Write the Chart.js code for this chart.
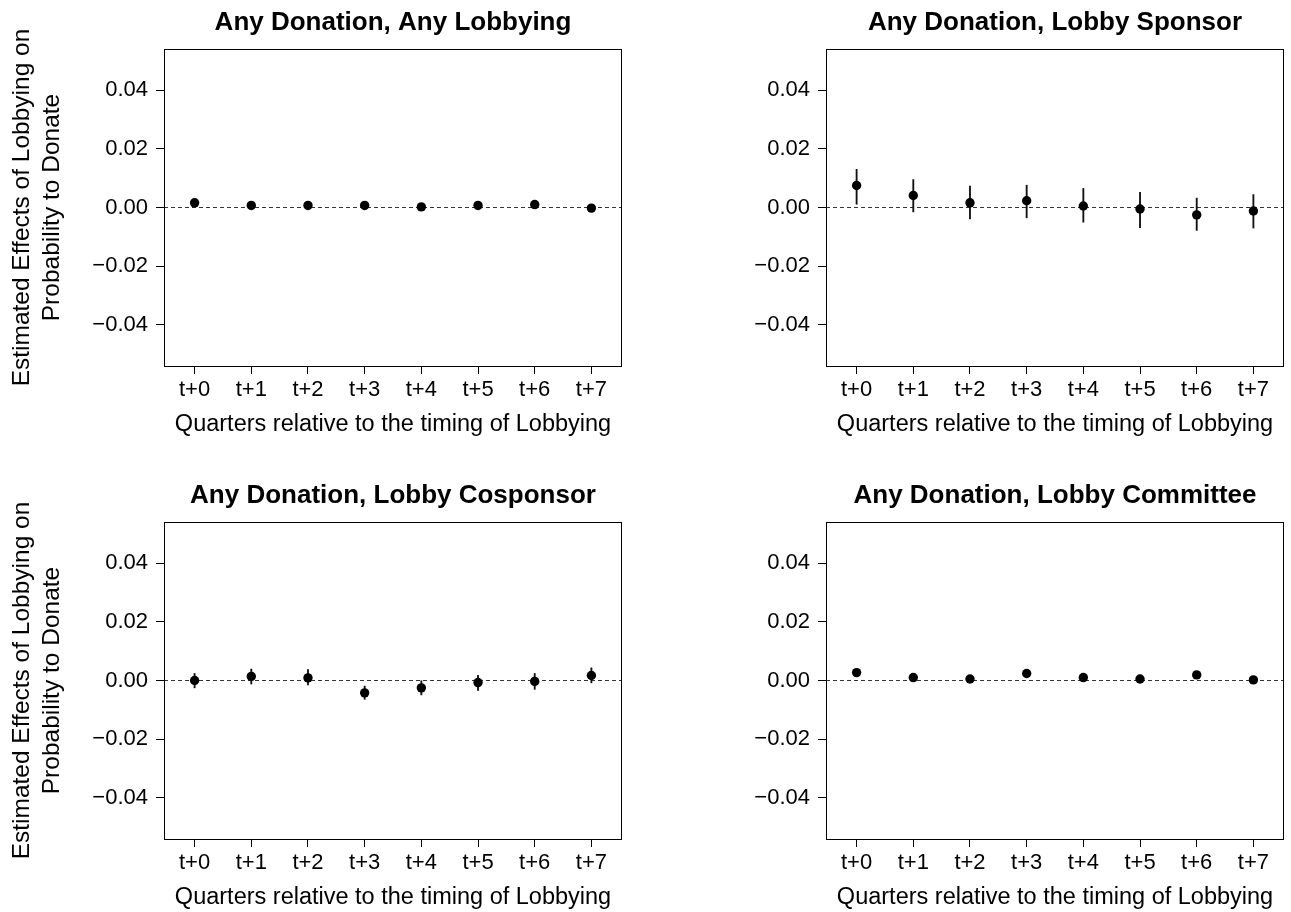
<!DOCTYPE html>
<html>
<head>
<meta charset="utf-8">
<script src="https://cdn.jsdelivr.net/npm/chart.js@4/dist/chart.umd.min.js"></script>
<style>
  html, body { margin: 0; padding: 0; background: #fff; overflow: hidden; }
  #wrap { position: relative; width: 1291px; height: 912px; }
  canvas { position: absolute; }
</style>
</head>
<body>
<div id="wrap">
  <canvas id="p1" width="645" height="473" style="left:0;top:0"></canvas>
  <canvas id="p2" width="646" height="473" style="left:645px;top:0"></canvas>
  <canvas id="p3" width="645" height="439" style="left:0;top:473px"></canvas>
  <canvas id="p4" width="646" height="439" style="left:645px;top:473px"></canvas>
</div>
<script>
// Quarters after lobbying (x categories) and y tick values
const QUARTERS = ['t+0', 't+1', 't+2', 't+3', 't+4', 't+5', 't+6', 't+7'];
const Y_TICKS = [-0.04, -0.02, 0, 0.02, 0.04];

const TITLES = [
  'Any Donation, Any Lobbying',
  'Any Donation, Lobby Sponsor',
  'Any Donation, Lobby Cosponsor',
  'Any Donation, Lobby Committee'
];

// Any lobbying
const anyEst = [0.0016, 0.0007, 0.0007, 0.0007, 0.0002, 0.0007, 0.0010, -0.0002];
const anyLo  = [0.0008, -0.0001, -0.0001, -0.0001, -0.0006, -0.0001, 0.0002, -0.0010];
const anyHi  = [0.0024, 0.0015, 0.0015, 0.0015, 0.0010, 0.0015, 0.0018, 0.0006];

// Lobby sponsor
const sponsorEst = [0.0075, 0.0041, 0.0016, 0.0023, 0.0005, -0.0005, -0.0025, -0.0012];
const sponsorLo  = [0.0011, -0.0015, -0.0039, -0.0035, -0.0050, -0.0069, -0.0078, -0.0070];
const sponsorHi  = [0.0130, 0.0095, 0.0073, 0.0076, 0.0065, 0.0052, 0.0032, 0.0044];

// Lobby cosponsor
const cosponsorEst = [0.0000, 0.0014, 0.0009, -0.0042, -0.0025, -0.0007, -0.0003, 0.0017];
const cosponsorLo  = [-0.0025, -0.0012, -0.0015, -0.0064, -0.0049, -0.0034, -0.0030, -0.0008];
const cosponsorHi  = [0.0024, 0.0039, 0.0037, -0.0019, -0.0001, 0.0018, 0.0024, 0.0043];

// Lobby committee
const committeeEst = [0.0027, 0.0010, 0.0005, 0.0024, 0.0010, 0.0005, 0.0019, 0.0002];
const committeeLo  = [0.0017, 0.0000, -0.0005, 0.0014, 0.0000, -0.0005, 0.0009, -0.0008];
const committeeHi  = [0.0037, 0.0020, 0.0015, 0.0034, 0.0020, 0.0015, 0.0029, 0.0012];

// Axis extents
const X_MIN = -0.54, X_MAX = 7.54;
const Y_MIN = -0.054, Y_MAX = 0.054;

const FONT = '"Liberation Sans", Arial, Helvetica, sans-serif';
const Y_TITLE = ['Estimated Effects of Lobbying on', 'Probability to Donate'];
const X_TITLE = 'Quarters relative to the timing of Lobbying';
const X_TITLE_SIZE = 23.5;
const Y_TITLE_SIZE = 24.5;

Chart.defaults.font.family = FONT;
Chart.defaults.color = '#000';

// Full box around the plotting region
const boxPlugin = {
  id: 'box',
  afterDraw(chart) {
    const { ctx, chartArea: a } = chart;
    ctx.save();
    ctx.strokeStyle = '#000';
    ctx.lineWidth = 1;
    ctx.strokeRect(Math.round(a.left) + 0.5, Math.round(a.top) + 0.5,
                   Math.round(a.right - a.left) - 1, Math.round(a.bottom - a.top));
    ctx.restore();
  }
};

// Bold panel heading centred over the box
const headingPlugin = {
  id: 'heading',
  afterDraw(chart, args, opts) {
    const { ctx, chartArea: a } = chart;
    ctx.save();
    ctx.font = 'bold 26px ' + FONT;
    ctx.fillStyle = '#000';
    ctx.textAlign = 'center';
    ctx.textBaseline = 'alphabetic';
    ctx.fillText(opts.text, (a.left + a.right) / 2, a.top - 19.5);
    ctx.restore();
  }
};

function fmt(v) {
  return v.toFixed(2).replace('-', '\u2212');
}

function makePanel(id, title, est, lo, hi, cfg) {
  const canvas = document.getElementById(id);
  const xScaleH = canvas.height - 366;
  new Chart(canvas, {
    type: 'scatter',
    data: {
      datasets: [
        {
          type: 'line',
          data: [{ x: X_MIN, y: 0 }, { x: X_MAX, y: 0 }],
          borderColor: '#333',
          borderWidth: 1,
          borderDash: [4, 3],
          pointRadius: 0,
          order: 3
        },
        {
          type: 'bar',
          data: QUARTERS.map((q, i) => ({ x: i, y: [lo[i], hi[i]] })),
          backgroundColor: '#111',
          borderWidth: 0,
          barThickness: 1.2,
          order: 2
        },
        {
          type: 'scatter',
          data: QUARTERS.map((q, i) => ({ x: i, y: est[i] })),
          backgroundColor: '#000',
          borderWidth: 0,
          pointRadius: 4.7,
          pointHoverRadius: 4.7,
          order: 1
        }
      ]
    },
    options: {
      responsive: false,
      animation: false,
      events: [],
      layout: { padding: { top: 49, right: cfg.padRight, bottom: 0, left: 0 } },
      plugins: {
        legend: { display: false },
        tooltip: { enabled: false },
        heading: { text: title }
      },
      scales: {
        x: {
          type: 'linear',
          min: X_MIN,
          max: X_MAX,
          offset: false,
          afterBuildTicks: s => { s.ticks = QUARTERS.map((q, i) => ({ value: i })); },
          afterFit: s => { s.height = xScaleH; },
          ticks: {
            autoSkip: false,
            maxRotation: 0,
            padding: 3,
            font: { size: 22 },
            color: '#000',
            callback: (v, i) => QUARTERS[i]
          },
          grid: {
            offset: false,
            drawOnChartArea: false,
            drawTicks: true,
            tickLength: 8,
            tickColor: '#000',
            tickWidth: 1
          },
          border: { display: false },
          title: {
            display: true,
            text: X_TITLE,
            color: '#000',
            font: { size: X_TITLE_SIZE },
            padding: { top: 0, bottom: xScaleH - 58.7 - X_TITLE_SIZE * 0.6 }
          }
        },
        y: {
          type: 'linear',
          min: Y_MIN,
          max: Y_MAX,
          afterBuildTicks: s => { s.ticks = Y_TICKS.map(v => ({ value: v })); },
          afterFit: s => { s.width = cfg.yWidth; },
          ticks: {
            padding: 8,
            font: { size: 22 },
            color: '#000',
            callback: v => fmt(v)
          },
          grid: {
            drawOnChartArea: false,
            drawTicks: true,
            tickLength: 8,
            tickColor: '#000',
            tickWidth: 1
          },
          border: { display: false },
          title: {
            display: cfg.yTitle,
            text: Y_TITLE,
            color: '#000',
            font: { size: Y_TITLE_SIZE, lineHeight: 30 / Y_TITLE_SIZE },
            padding: { top: 7, bottom: 0 }
          }
        }
      }
    },
    plugins: [boxPlugin, headingPlugin]
  });
}

makePanel('p1', TITLES[0], anyEst, anyLo, anyHi, { yWidth: 164, padRight: 23, yTitle: true });
makePanel('p2', TITLES[1], sponsorEst, sponsorLo, sponsorHi, { yWidth: 181, padRight: 7, yTitle: false });
makePanel('p3', TITLES[2], cosponsorEst, cosponsorLo, cosponsorHi, { yWidth: 164, padRight: 23, yTitle: true });
makePanel('p4', TITLES[3], committeeEst, committeeLo, committeeHi, { yWidth: 181, padRight: 7, yTitle: false });
</script>
</body>
</html>
